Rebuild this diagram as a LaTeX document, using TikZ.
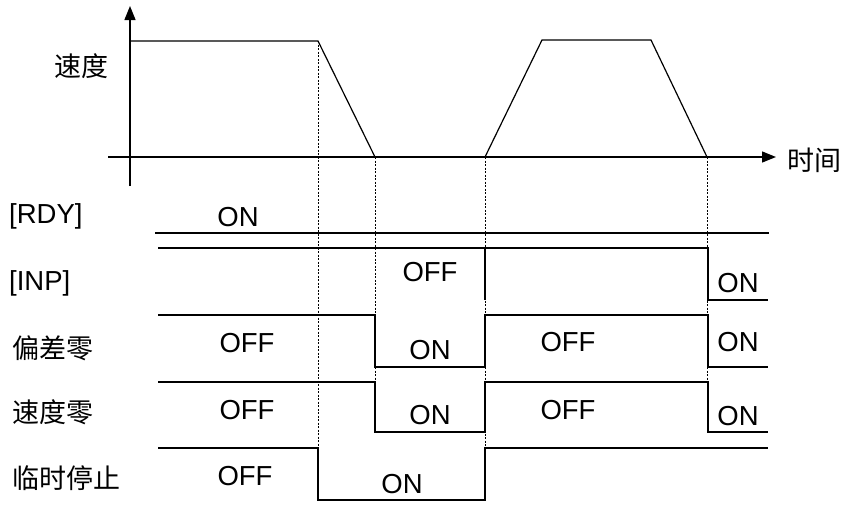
\documentclass[tikz,border=0pt]{standalone}
\usepackage{fontspec}
\setmainfont{Liberation Sans}
\newfontfamily\cjk{Noto Sans CJK SC}
\usetikzlibrary{arrows.meta}
\begin{document}
\begin{tikzpicture}[x=1pt,y=-1pt,
  sig/.style={line width=1.2pt, line join=miter},
  guide/.style={dash pattern=on 2pt off 1.5pt, line width=0.8pt},
  axis/.style={line width=1.3pt,-{Triangle[length=14pt,width=11pt]}},
  lbl/.style={font=\fontsize{27.5}{30}\selectfont, inner sep=0pt},
  clbl/.style={font=\cjk\fontsize{27}{30}\selectfont, inner sep=0pt}]
\useasboundingbox (0,0) rectangle (849,506);
% axes
\coordinate (vb) at (130,186);
\coordinate (vt) at (130,6);
\coordinate (hl) at (108,157);
\coordinate (hr) at (776,157);
\draw[axis] (vb) -- (vt);
\draw[axis] (hl) -- (hr);
\node[clbl] (speed) at (81,66) {速度};
\node[clbl] (time) at (814,160) {时间};
% speed profile
\coordinate (p1) at (318,41);
\coordinate (p2) at (375,157);
\coordinate (p3) at (485,157);
\coordinate (p6) at (707,157);
\draw[sig] (130,41) -- (p1) -- (p2);
\draw[sig] (p3) -- (542,40) -- (651,40) -- (p6);
% guide lines
\draw[guide] (p1) -- (318,448);
\draw[guide] (p2) -- (375,432);
\draw[guide] (p3) -- (485,448);
\draw[guide] (p6) -- (707,432);
% RDY
\node[lbl, anchor=west] (rdy) at (9,216) {[RDY]};
\node[lbl] (rdyon) at (238,217) {ON};
\draw[sig] (155,233) -- (769,233);
% INP
\node[lbl, anchor=west] (inp) at (9,283) {[INP]};
\node[lbl] (inpoff) at (430,272) {OFF};
\node[lbl] (inpon) at (738,283) {ON};
\draw[sig] (158,248) -- (708,248) -- (708,300) -- (768,300);
\draw[sig] (485,248) -- (485,300);
% deviation zero
\node[clbl, anchor=west] (dz) at (12,348) {偏差零};
\node[lbl] (dzoff1) at (247,343) {OFF};
\node[lbl] (dzon1) at (430,350) {ON};
\node[lbl] (dzoff2) at (568,342) {OFF};
\node[lbl] (dzon2) at (738,342) {ON};
\draw[sig] (158,315) -- (375,315) -- (375,367) -- (485,367) -- (485,315) -- (708,315) -- (708,367) -- (768,367);
% speed zero
\node[clbl, anchor=west] (sz) at (12,412) {速度零};
\node[lbl] (szoff1) at (247,410) {OFF};
\node[lbl] (szon1) at (430,415) {ON};
\node[lbl] (szoff2) at (568,410) {OFF};
\node[lbl] (szon2) at (738,416) {ON};
\draw[sig] (158,382) -- (375,382) -- (375,432) -- (485,432) -- (485,382) -- (708,382) -- (708,432) -- (768,432);
% temporary stop
\node[clbl, anchor=west] (ts) at (12,478) {临时停止};
\node[lbl] (tsoff) at (245,476) {OFF};
\node[lbl] (tson) at (402,484) {ON};
\draw[sig] (158,448) -- (318,448) -- (318,500) -- (485,500) -- (485,448) -- (768,448);
\end{tikzpicture}
\end{document}
